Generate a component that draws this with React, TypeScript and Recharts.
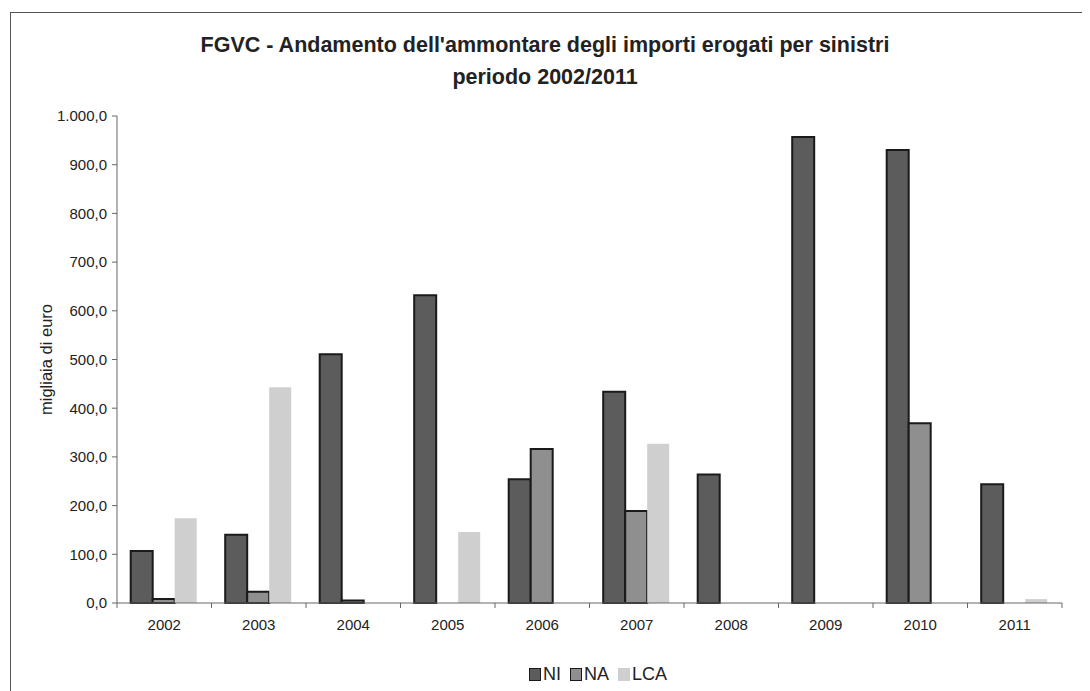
import { BarChart, Bar, XAxis, YAxis, Legend } from 'recharts';

const YEARS = ['2002', '2003', '2004', '2005', '2006', '2007', '2008', '2009', '2010', '2011'];
const NI = [107, 140, 511, 632, 254, 434, 264, 957, 930, 244];
const NA = [8, 23, 5, 0, 316, 189, 0, 0, 369, 0];
const LCA = [174, 443, 0, 146, 0, 327, 0, 0, 0, 8];
const Y_TICKS = [0, 100, 200, 300, 400, 500, 600, 700, 800, 900, 1000];

const SERIES = [
  { key: 'NI', fill: '#5c5c5c', stroke: '#1a1a1a' },
  { key: 'NA', fill: '#8f8f8f', stroke: '#1a1a1a' },
  { key: 'LCA', fill: '#cfcfcf', stroke: 'none' },
];

const data = YEARS.map((year, i) => ({ year, NI: NI[i], NA: NA[i], LCA: LCA[i] }));

const FONT = '"Liberation Sans", Arial, sans-serif';
const BAND = (1054 - 109) / YEARS.length;

const fmt = (v: number) => {
  const int = String(v).replace(/\B(?=(\d{3})+(?!\d))/g, '.');
  return `${int},0`;
};

function YearTick(props: any) {
  const { x, y, payload, index } = props;
  return (
    <g>
      <line x1={x - BAND / 2} x2={x - BAND / 2} y1={y} y2={y + 5} stroke="#666" />
      {index === YEARS.length - 1 && (
        <line x1={x + BAND / 2} x2={x + BAND / 2} y1={y} y2={y + 5} stroke="#666" />
      )}
      <text x={x} y={y + 27} textAnchor="middle" fontSize={15} fill="#222" fontFamily={FONT}>
        {payload.value}
      </text>
    </g>
  );
}

function LegendContent() {
  return (
    <div style={{ display: 'flex', alignItems: 'center', fontFamily: FONT, fontSize: 18, color: '#222' }}>
      {SERIES.map((s) => (
        <span key={s.key} style={{ display: 'flex', alignItems: 'center', marginRight: 9 }}>
          <span
            style={{
              display: 'inline-block',
              width: 10,
              height: 11,
              background: s.fill,
              border: s.stroke === 'none' ? `1px solid ${s.fill}` : `1px solid ${s.stroke}`,
              marginRight: 2,
            }}
          />
          {s.key}
        </span>
      ))}
    </div>
  );
}

function AxisTitle(props: any) {
  const { viewBox } = props;
  const cx = viewBox.x + 38;
  const cy = viewBox.y + viewBox.height / 2;
  return (
    <text
      x={cx}
      y={cy}
      transform={`rotate(-90, ${cx}, ${cy})`}
      textAnchor="middle"
      dominantBaseline="central"
      fontSize={16.5}
      fill="#222"
      fontFamily={FONT}
    >
      migliaia di euro
    </text>
  );
}

export default function App() {
  return (
    <div style={{ position: 'relative', width: 1082, height: 683, background: '#fff' }}>
      <style>{'body{overflow:hidden;background:#fff}'}</style>
      <div
        style={{
          position: 'absolute',
          left: 2,
          top: 4,
          width: 1100,
          height: 700,
          borderTop: '1.5px solid #555',
          borderLeft: '1.5px solid #555',
          boxSizing: 'border-box',
        }}
      />
      <div
        style={{
          position: 'absolute',
          left: 0,
          top: 21,
          width: 1074,
          textAlign: 'center',
          fontFamily: FONT,
          fontWeight: 'bold',
          fontSize: 21.5,
          lineHeight: '32px',
          color: '#222',
        }}
      >
        FGVC - Andamento dell'ammontare degli importi erogati per sinistri
        <br />
        periodo 2002/2011
      </div>
      <BarChart
        width={1082}
        height={683}
        data={data}
        margin={{ top: 108, right: 28, bottom: 58, left: 0 }}
        barCategoryGap="14.5%"
        barGap={0}
        style={{ position: 'absolute', left: 0, top: 0 }}
      >
        <XAxis
          dataKey="year"
          height={30}
          tickSize={0}
          tickMargin={0}
          tick={<YearTick />}
          axisLine={{ stroke: '#666' }}
          tickLine={false}
          interval={0}
        />
        <YAxis
          width={109}
          domain={[0, 1000]}
          ticks={Y_TICKS}
          tickFormatter={fmt}
          tickSize={5}
          tickMargin={5}
          tick={{ fontSize: 15, fill: '#222', fontFamily: FONT }}
          axisLine={{ stroke: '#666' }}
          tickLine={{ stroke: '#666' }}
          label={<AxisTitle />}
        />
        <Legend
          layout="horizontal"
          verticalAlign="middle"
          align="center"
          content={<LegendContent />}
          wrapperStyle={{ top: 656, left: 521, width: 'auto' }}
        />
        {SERIES.map((s) => (
          <Bar
            key={s.key}
            dataKey={s.key}
            fill={s.fill}
            stroke={s.stroke}
            strokeWidth={s.stroke === 'none' ? 0 : 2}
            isAnimationActive={false}
          />
        ))}
      </BarChart>
    </div>
  );
}
